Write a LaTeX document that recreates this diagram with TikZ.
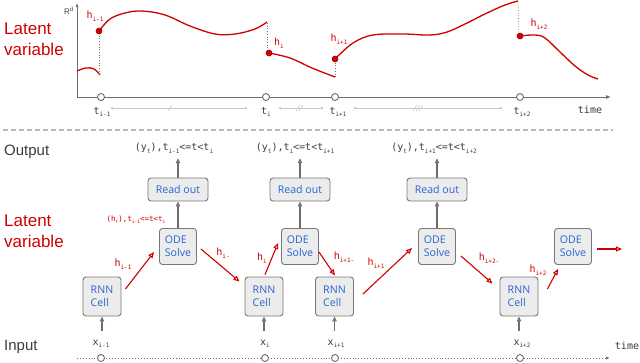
\documentclass[tikz,border=0pt]{standalone}
\usepackage{fontspec}
\setmainfont{Liberation Sans}
\newfontfamily\monof{DejaVu Sans Mono}
\newfontfamily\boxf{Open Sans}
\usetikzlibrary{arrows.meta}
\definecolor{myred}{RGB}{208,0,0}
\definecolor{boxblue}{RGB}{40,100,210}
\definecolor{boxfill}{RGB}{236,236,236}
\definecolor{boxline}{RGB}{120,120,120}
\definecolor{axgray}{RGB}{110,110,110}
\definecolor{lightg}{RGB}{200,200,200}
\definecolor{txtgray}{RGB}{60,60,60}
\newcommand\sbs[1]{\raisebox{-0.45ex}{\fontsize{6}{6}\selectfont #1}}
\newcommand\ssbs[1]{\raisebox{-0.45ex}{\fontsize{4.5}{4.5}\selectfont #1}}
\begin{document}
\begin{tikzpicture}[x=1pt,y=-1pt,
  cell/.style={draw=boxline, fill=boxfill, rounded corners=3pt, line width=0.9pt, text=boxblue,
    font=\boxf\fontsize{10.6}{13}\selectfont, align=left, inner sep=0pt},
  readbox/.style={cell, minimum width=60pt, minimum height=23pt},
  odebox/.style={cell, minimum width=37pt, minimum height=36pt},
  rnnbox/.style={cell, minimum width=38pt, minimum height=39pt},
  redarr/.style={draw=myred, line width=1.1pt, -{Triangle[open, length=6pt, width=5pt]}},
  grayarr/.style={draw=axgray, line width=1.1pt, -{Triangle[open, length=5pt, width=4.5pt]}},
  lbl/.style={font=\monof\fontsize{10}{10}\selectfont, text=txtgray, inner sep=0pt},
  hlbl/.style={font=\monof\fontsize{10}{10}\selectfont, text=myred, inner sep=0pt},
  tickc/.style={circle, draw=axgray, fill=white, line width=0.9pt, minimum size=7pt, inner sep=0pt},
  hdot/.style={circle, draw=myred!75!black, fill=myred, line width=0.6pt, minimum size=6pt, inner sep=0pt},
  curve/.style={myred, line width=1.3pt},
  vdot/.style={axgray, dotted, line width=0.7pt},
  dbl/.style={lightg, line width=0.8pt, {Latex[length=3pt,width=3pt]}-{Latex[length=3pt,width=3pt]}},
  biglbl/.style={anchor=west, font=\fontsize{17}{21}\selectfont, text=myred, align=left, inner sep=0pt},
  sidelbl/.style={anchor=west, font=\fontsize{15}{15}\selectfont, text=txtgray, inner sep=0pt}
]
\useasboundingbox (0,0) rectangle (640,362);

% ---------- top plot ----------
\coordinate (O) at (77,97);
\coordinate (Ytop) at (77,3);
\coordinate (Xend) at (611,97);
\draw[axgray, line width=1pt, -{Latex[length=4pt,width=3pt]}] (O) -- (Ytop);
\draw[axgray, line width=1pt, -{Latex[length=5pt,width=4pt]}] (O) -- (Xend);
\node[text=txtgray, font=\fontsize{8}{8}\selectfont, inner sep=0pt] (Rd) at (69,11) {R\textsuperscript{d}};

\node[tickc] (t1) at (101,97) {};
\node[tickc] (t2) at (266,97) {};
\node[tickc] (t3) at (335,97) {};
\node[tickc] (t4) at (520,97) {};
\node[lbl] (tl1) at (102,112) {t\sbs{i-1}};
\node[lbl] (tl2) at (266,112) {t\sbs{i}};
\node[lbl] (tl3) at (338,112) {t\sbs{i+1}};
\node[lbl] (tl4) at (522,112) {t\sbs{i+2}};
\node[lbl] (timeA) at (590,110) {time};

\draw[dbl] (110,108) -- (248,108);
\draw[lightg, line width=0.6pt] (168,111) -- (172,105);
\draw[dbl] (278,108) -- (324,108);
\draw[lightg, line width=0.6pt] (296,111) -- (300,105) (299,111) -- (303,105);
\draw[dbl] (353,108) -- (503,108);
\draw[lightg, line width=0.6pt] (413,111) -- (417,105) (416,111) -- (420,105) (419,111) -- (423,105);

% curves
\draw[curve] plot[smooth, tension=0.7] coordinates {(77,71) (86,68) (94,69) (100,75)};
\draw[curve] plot[smooth, tension=0.6] coordinates {(99,31) (110,19) (125,13) (142,11) (165,15) (190,26) (215,34) (235,34) (255,29) (267,22)};
\draw[curve] plot[smooth, tension=0.6] coordinates {(269,53) (290,58) (312,68) (335,77)};
\draw[curve] plot[smooth, tension=0.6] coordinates {(335,59) (353,43) (373,35) (403,34) (430,35) (447,32) (465,24) (487,13) (505,5) (518,1)};
\draw[curve] plot[smooth, tension=0.6] coordinates {(520,36) (535,35) (545,38) (560,52) (575,66) (588,75) (598,79)};

\draw[vdot] (99,33) -- (99,75);
\draw[vdot] (267,23) -- (267,52);
\draw[vdot] (335,60) -- (335,77);
\draw[vdot] (518,2) -- (519,36);

\node[hdot] (h1) at (99,31) {};
\node[hdot] (h2) at (269,53) {};
\node[hdot] (h3) at (335,59) {};
\node[hdot] (h4) at (520,36) {};
\node[hlbl] (hl1) at (95,16) {h\sbs{i-1}};
\node[hlbl] (hl2) at (279,43) {h\sbs{i}};
\node[hlbl] (hl3) at (339,39) {h\sbs{i+1}};
\node[hlbl] (hl4) at (539,24) {h\sbs{i+2}};

\node[biglbl] (lv1) at (4,39) {Latent\\variable};

% separator
\draw[lightg!80!gray, line width=1.2pt, dash pattern=on 5pt off 3pt] (3,130) -- (613,130);

% ---------- bottom diagram ----------
\node[sidelbl] (outL) at (4,152) {Output};
\node[biglbl] (lv2) at (4,231) {Latent\\variable};
\node[sidelbl] (inL) at (4,347) {Input};

\node[lbl] (y1) at (174,148) {(y\sbs{t}),t\sbs{i-1}<=t<t\sbs{i}};
\node[lbl] (y2) at (295,148) {(y\sbs{t}),t\sbs{i}<=t<t\sbs{i+1}};
\node[lbl] (y3) at (434,148) {(y\sbs{t}),t\sbs{i+1}<=t<t\sbs{i+2}};

\node[readbox] (ro1) at (178,189.5) {Read out};
\node[readbox] (ro2) at (300,189.5) {Read out};
\node[readbox] (ro3) at (437,189.5) {Read out};

\node[odebox] (o1) at (178,246.5) {ODE\\Solve};
\node[odebox] (o2) at (300,246.5) {ODE\\Solve};
\node[odebox] (o3) at (437,246.5) {ODE\\Solve};
\node[odebox] (o4) at (573,246.5) {ODE\\Solve};

\node[rnnbox] (r1) at (102,296.5) {RNN\\Cell};
\node[rnnbox] (r2) at (264,296.5) {RNN\\Cell};
\node[rnnbox] (r3) at (334.5,296.5) {RNN\\Cell};
\node[rnnbox] (r4) at (519,296.5) {RNN\\Cell};

% grey arrows
\foreach \r/\y in {ro1/y1, ro2/y2, ro3/y3}{
  \draw[grayarr] (\r.north) -- ([yshift=-5pt]\y.south -| \r.north);
}
\foreach \o/\r in {o1/ro1, o2/ro2, o3/ro3}{
  \draw[grayarr] (\o.north) -- (\r.south);
}
\foreach \r in {r1,r2,r3,r4}{
  \draw[grayarr] ([yshift=-15pt]\r.south) -- (\r.south);
}

% red arrows
\coordinate (endR) at (622,249);
\draw[redarr] ([shift={(4,-7.5)}]r1.east) -- ([shift={(-5,5.5)}]o1.west);
\draw[redarr] ([shift={(4,2.5)}]o1.east) -- ([shift={(-5,5)}]r2.north west);
\draw[redarr] ([shift={(1,-2)}]r2.north) -- ([shift={(-3,-3.5)}]o2.west);
\draw[redarr] ([shift={(0,5.5)}]o2.east) -- ([shift={(0.5,-1)}]r3.north);
\draw[redarr] ([shift={(9,-2.5)}]r3.east) -- ([shift={(-6,1.5)}]o3.west);
\draw[redarr] ([shift={(5,9.5)}]o3.east) -- ([shift={(-7,7)}]r4.north west);
\draw[redarr] ([shift={(9,-7.5)}]r4.east) -- ([shift={(4,4)}]o4.south west);
\draw[redarr] ([shift={(5,2.5)}]o4.east) -- (endR);

\node[hlbl] (a1) at (123,264) {h\sbs{i-1}};
\node[hlbl] (a2) at (223,253) {h\sbs{i-}};
\node[hlbl] (a3) at (262,258) {h\sbs{i}};
\node[hlbl] (a4) at (344,257) {h\sbs{i+1-}};
\node[hlbl] (a5) at (376,263) {h\sbs{i+1}};
\node[hlbl] (a6) at (489,258) {h\sbs{i+2-}};
\node[hlbl] (a7) at (538,270) {h\sbs{i+2}};
\node[hlbl, font=\monof\fontsize{7.5}{7.5}\selectfont] (ht) at (136,220) {(h\ssbs{t}),t\ssbs{i-1}<=t<t\ssbs{i}};

% input axis
\draw[axgray, dotted, line width=0.9pt, -{Latex[length=4pt,width=3pt]}] (77,358) -- (610,358);
\node[tickc] (x1) at (101,358) {};
\node[tickc] (x2) at (265,358) {};
\node[tickc] (x3) at (335,358) {};
\node[tickc] (x4) at (520,358) {};
\node[lbl] (xl1) at (101,344) {x\sbs{i-1}};
\node[lbl] (xl2) at (265,344) {x\sbs{i}};
\node[lbl] (xl3) at (336,344) {x\sbs{i+1}};
\node[lbl] (xl4) at (522,344) {x\sbs{i+2}};
\node[lbl] (timeB) at (627,346) {time};
\end{tikzpicture}
\end{document}
